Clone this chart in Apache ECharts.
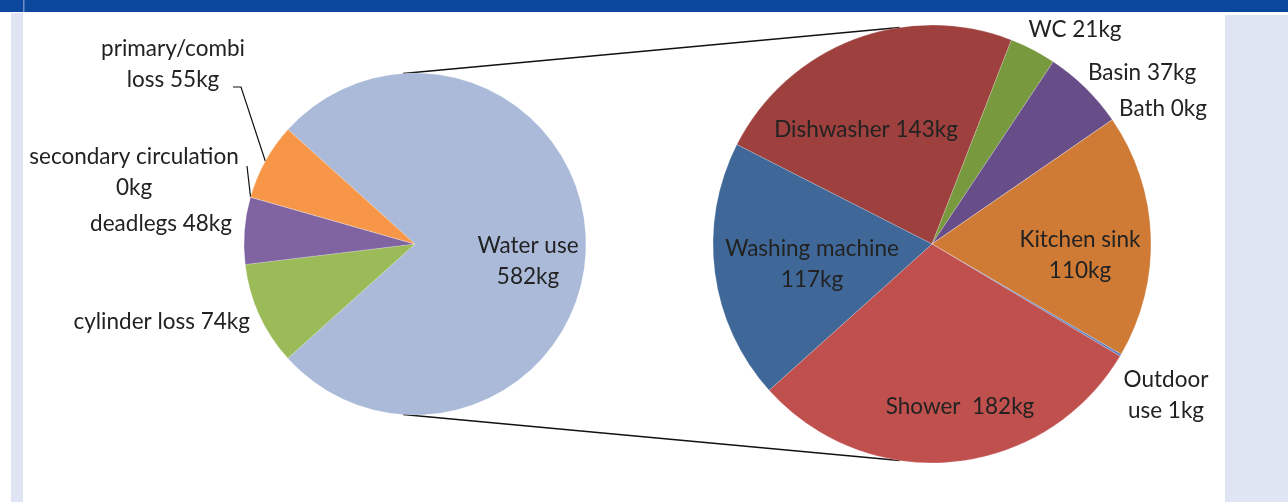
<!DOCTYPE html>
<html>
<head>
<meta charset="utf-8">
<script src="https://cdn.jsdelivr.net/npm/echarts@6/dist/echarts.min.js"></script>
<style>
  html, body { margin: 0; padding: 0; background: #fff; }
  #chart { width: 1288px; height: 502px; }
</style>
</head>
<body>
<div id="chart"></div>
<script>
// left pie: where the hot water goes
const heatNames = ['Water use', 'cylinder loss', 'deadlegs', 'secondary circulation', 'primary/combi loss']
const heatValues = [582, 74, 48, 0, 55]
const heatLabels = ['Water use\n{v}kg', 'cylinder loss {v}kg', 'deadlegs {v}kg', 'secondary circulation\n{v}kg', 'primary/combi\nloss {v}kg']
const heatColors = ['#aabad8', '#9bbb59', '#8064a2', '#4bacc6', '#f79646']

// right pie: breakdown of water use
const useNames = ['Dishwasher', 'WC', 'Basin', 'Bath', 'Kitchen sink', 'Outdoor use', 'Shower', 'Washing machine']
const useValues = [143, 21, 37, 0, 110, 1, 182, 117]
const useLabels = ['Dishwasher {v}kg', 'WC {v}kg', 'Basin {v}kg', 'Bath {v}kg', 'Kitchen sink\n{v}kg', 'Outdoor\nuse {v}kg', 'Shower  {v}kg', 'Washing machine\n{v}kg']
const useColors = ['#9e403d', '#79993f', '#684e88', '#4f81bd', '#cf7b36', '#5b80c0', '#c0504d', '#3f6899']

// layout
const leftPie = { cx: 415, cy: 244, r: 171, start: 138 }
const rightPie = { cx: 932, cy: 244, r: 219, start: 153 }

// label anchor spots [x, y, align] per series
const labelSpots = [
  [[528, 261, 'center'], [250, 322, 'right'], [232, 224, 'right'], [134, 172, 'center'], [173, 64, 'center']],
  [[866, 130, 'center'], [1075, 30, 'center'], [1142, 73, 'center'], [1163, 109, 'center'],
   [1080, 255, 'center'], [1166, 395, 'center'], [960, 407, 'center'], [812, 264, 'center']]
]
// leader line elbows (label end first), keyed by name
const leaderElbows = {
  'secondary circulation': [[247, 166]],
  'primary/combi loss': [[233, 87], [241, 87]]
}

const chart = echarts.init(document.getElementById('chart'))

const textStyle = {
  color: '#222',
  fontFamily: 'Lato',
  fontSize: 22.5,
  lineHeight: 31
}

const buildData = (names, values, labels, colors) => names.map((n, i) => ({
  name: n,
  value: values[i],
  itemStyle: { color: colors[i] },
  label: { formatter: labels[i].replace('{v}', values[i]) },
  labelLine: { show: !!leaderElbows[n] }
}))

const spotLayout = (params) => {
  const s = labelSpots[params.seriesIndex][params.dataIndex]
  const out = { x: s[0], y: s[1], align: s[2], verticalAlign: 'middle' }
  const elbows = params.seriesIndex === 0 ? leaderElbows[heatNames[params.dataIndex]] : null
  if (elbows && params.labelLinePoints) {
    out.labelLinePoints = [params.labelLinePoints[0]].concat(elbows.slice().reverse())
  }
  return out
}

// connector lines between the two pies
const rad = (a) => a * Math.PI / 180
const edge = (p, a) => [p.cx + p.r * Math.cos(rad(a)), p.cy - p.r * Math.sin(rad(a))]
const topA = edge(leftPie, 94), topB = edge(rightPie, 98.5)
const botA = edge(leftPie, -94), botB = edge(rightPie, -98.5)

const option = {
  backgroundColor: '#fff',
  animation: false,
  graphic: [
    { type: 'rect', shape: { x: 0, y: 0, width: 1288, height: 12 }, style: { fill: '#0c479e' } },
    { type: 'rect', shape: { x: 23, y: 0, width: 1.5, height: 12 }, style: { fill: '#6f8fc6' } },
    { type: 'rect', shape: { x: 11, y: 13, width: 12, height: 489 }, style: { fill: '#dfe5f3' } },
    { type: 'rect', shape: { x: 1225, y: 15, width: 63, height: 487 }, style: { fill: '#dfe5f3' } },
    { type: 'line', shape: { x1: topA[0], y1: topA[1], x2: topB[0], y2: topB[1] }, style: { stroke: '#111', lineWidth: 1.5 } },
    { type: 'line', shape: { x1: botA[0], y1: botA[1], x2: botB[0], y2: botB[1] }, style: { stroke: '#111', lineWidth: 1.5 } }
  ],
  series: [
    {
      type: 'pie',
      center: [leftPie.cx, leftPie.cy],
      radius: leftPie.r,
      startAngle: leftPie.start,
      avoidLabelOverlap: false,
      label: { show: true, position: 'outside', ...textStyle },
      labelLine: { length: 10, length2: 10, lineStyle: { color: '#111', width: 1.2 } },
      labelLayout: spotLayout,
      itemStyle: { borderColor: '#fff', borderWidth: 0.2 },
      emphasis: { disabled: true },
      data: buildData(heatNames, heatValues, heatLabels, heatColors)
    },
    {
      type: 'pie',
      center: [rightPie.cx, rightPie.cy],
      radius: rightPie.r,
      startAngle: rightPie.start,
      avoidLabelOverlap: false,
      label: { show: true, position: 'outside', ...textStyle },
      labelLine: { show: false },
      labelLayout: spotLayout,
      itemStyle: { borderColor: '#fff', borderWidth: 0.2 },
      emphasis: { disabled: true },
      data: buildData(useNames, useValues, useLabels, useColors)
    }
  ]
}

chart.setOption(option)
</script>
</body>
</html>
